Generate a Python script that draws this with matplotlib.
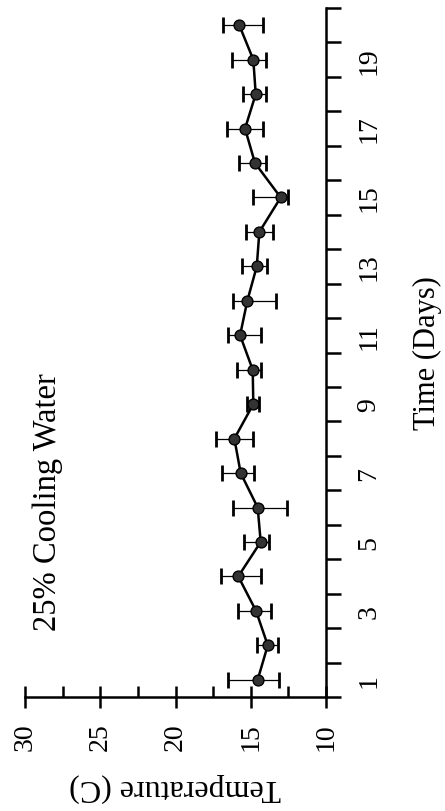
import matplotlib.pyplot as plt
from matplotlib.ticker import FixedLocator, MultipleLocator

plt.rcParams['font.family'] = ['Liberation Serif', 'DejaVu Serif']

days = list(range(1, 21))
temp = [14.54, 13.87, 14.65, 15.83, 14.34, 14.54, 15.67, 16.09, 14.83, 14.87,
        15.71, 15.23, 14.60, 14.43, 13.01, 14.72, 15.38, 14.67, 14.83, 15.76]
err_low = [1.44, 0.70, 1.00, 1.51, 0.55, 1.97, 0.89, 1.22, 0.40, 0.55,
           1.39, 1.91, 0.66, 0.93, 0.51, 0.73, 1.18, 0.68, 0.84, 1.56]
err_high = [1.95, 0.73, 1.22, 1.17, 1.11, 1.62, 1.26, 1.22, 0.44, 1.06,
            0.82, 0.97, 1.00, 0.89, 1.82, 1.04, 1.18, 0.82, 1.44, 1.10]
day_labels = [1, 3, 5, 7, 9, 11, 13, 15, 17, 19]
temp_ticks = [10, 15, 20, 25, 30]

fig = plt.figure(figsize=(4.45, 8.12), dpi=100)
ax = fig.add_axes([0.0562, 0.1404, 0.6764, 0.8485])

# page is turned sideways: temperature runs right-to-left, days bottom-to-top
ax.errorbar(temp, days, xerr=[err_low, err_high], fmt='none', ecolor='black',
            elinewidth=0.9, capsize=6, capthick=2, zorder=2)
ax.plot(temp, days, color='black', lw=1.8, marker='o', ms=7.8,
        markerfacecolor='#333333', markeredgecolor='black', zorder=3)

ax.set_xlim(30, 10)
ax.set_ylim(0.5, 20.5)

for s in ['top', 'left']:
    ax.spines[s].set_visible(False)
for s in ['right', 'bottom']:
    ax.spines[s].set_linewidth(1.8)

ax.xaxis.set_major_locator(FixedLocator(temp_ticks))
ax.xaxis.set_minor_locator(MultipleLocator(2.5))
ax.tick_params(axis='x', which='major', direction='inout', length=16, width=1.8,
               labelsize=20, labelrotation=90, pad=10)
ax.tick_params(axis='x', which='minor', direction='in', length=8, width=1.8)

ax.yaxis.tick_right()
ax.yaxis.set_major_locator(FixedLocator(day_labels))
ax.yaxis.set_minor_locator(MultipleLocator(1, offset=0.5))
ax.tick_params(axis='y', which='major', length=0, labelsize=20, labelrotation=90, pad=22)
ax.tick_params(axis='y', which='minor', direction='out', length=11, width=1.8)
for lbl in ax.get_yticklabels():
    lbl.set_va('center')

ax.set_xlabel('Temperature (C)', fontsize=23, rotation=180)
ax.xaxis.set_label_coords(0.5, -0.1306)
ax.xaxis.label.set_va('center')

ax.yaxis.set_label_position('right')
ax.set_ylabel('Time (Days)', fontsize=22, rotation=90)
ax.yaxis.set_label_coords(1.3355, 0.5)
ax.yaxis.label.set_ha('center')
ax.yaxis.label.set_va('center')

ax.text(28.47, 2.45, '25% Cooling Water', fontsize=23.5, rotation=90,
        ha='center', va='bottom')

fig.savefig('out.png', dpi=100)
